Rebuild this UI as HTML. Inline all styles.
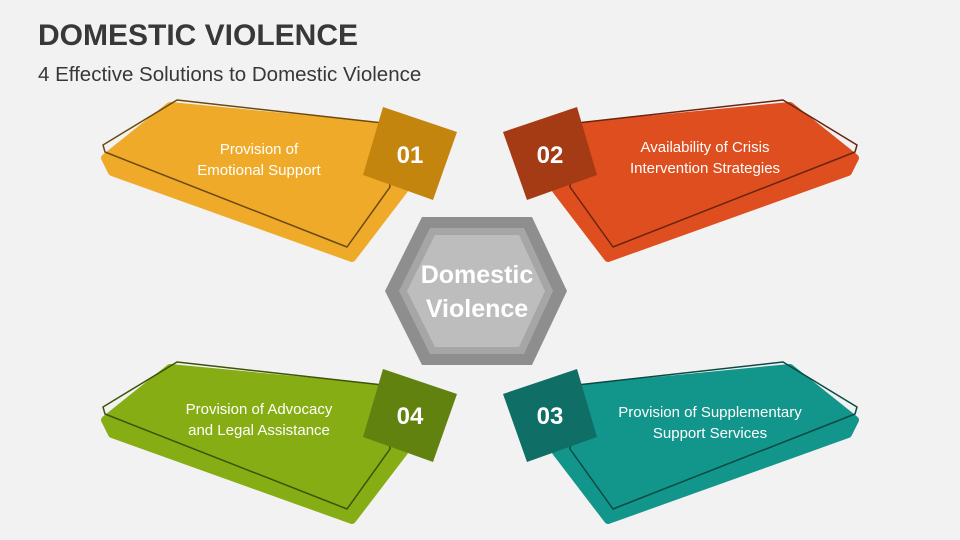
<!DOCTYPE html>
<html><head><meta charset="utf-8"><style>
body{margin:0;width:960px;height:540px;background:#f2f2f2;overflow:hidden;font-family:"Liberation Sans",sans-serif}
svg{position:absolute;left:0;top:0}
</style></head><body>
<svg width="960" height="540" viewBox="0 0 960 540" font-family="Liberation Sans, sans-serif">
<text x="38" y="45" font-size="30" font-weight="bold" fill="#383838">DOMESTIC VIOLENCE</text>
<text x="38" y="81" font-size="20.5" fill="#383838">4 Effective Solutions to Domestic Violence</text>

<!-- 01 yellow -->
<g>
<path d="M170,106 L398,128 L404,190 L352,258 L112,172 L105,158 Z" fill="#EFAA2A" stroke="#EFAA2A" stroke-width="8" stroke-linejoin="round"/>
<path d="M177,100 L383,123 L390,187 L347,247 L105,152 L103,145 Z" fill="none" stroke="#6b4a10" stroke-width="1.5" stroke-linejoin="round"/>
<path d="M383,107 L457,132 L433,200 L363,175 Z" fill="#C4850F"/>
<text x="259" y="154" font-size="15" fill="#fff" text-anchor="middle">Provision of</text>
<text x="259" y="175" font-size="15" fill="#fff" text-anchor="middle">Emotional Support</text>
<text x="410" y="163" font-size="24" font-weight="bold" fill="#fff" text-anchor="middle">01</text>
</g>
<!-- 04 green -->
<g transform="translate(0,262)">
<path d="M170,106 L398,128 L404,190 L352,258 L112,172 L105,158 Z" fill="#86AE14" stroke="#86AE14" stroke-width="8" stroke-linejoin="round"/>
<path d="M177,100 L383,123 L390,187 L347,247 L105,152 L103,145 Z" fill="none" stroke="#3d520a" stroke-width="1.5" stroke-linejoin="round"/>
<path d="M383,107 L457,132 L433,200 L363,175 Z" fill="#62820F"/>
</g>
<text x="259" y="414" font-size="15" fill="#fff" text-anchor="middle">Provision of Advocacy</text>
<text x="259" y="435" font-size="15" fill="#fff" text-anchor="middle">and Legal Assistance</text>
<text x="410" y="424" font-size="24" font-weight="bold" fill="#fff" text-anchor="middle">04</text>
<!-- 02 orange -->
<g transform="translate(960,0) scale(-1,1)">
<path d="M170,106 L398,128 L404,190 L352,258 L112,172 L105,158 Z" fill="#DE4E1E" stroke="#DE4E1E" stroke-width="8" stroke-linejoin="round"/>
<path d="M177,100 L383,123 L390,187 L347,247 L105,152 L103,145 Z" fill="none" stroke="#6a2410" stroke-width="1.5" stroke-linejoin="round"/>
<path d="M383,107 L457,132 L433,200 L363,175 Z" fill="#A53B14"/>
</g>
<text x="705" y="152" font-size="15" fill="#fff" text-anchor="middle">Availability of Crisis</text>
<text x="705" y="173" font-size="15" fill="#fff" text-anchor="middle">Intervention Strategies</text>
<text x="550" y="163" font-size="24" font-weight="bold" fill="#fff" text-anchor="middle">02</text>
<!-- 03 teal -->
<g transform="translate(960,262) scale(-1,1)">
<path d="M170,106 L398,128 L404,190 L352,258 L112,172 L105,158 Z" fill="#12958A" stroke="#12958A" stroke-width="8" stroke-linejoin="round"/>
<path d="M177,100 L383,123 L390,187 L347,247 L105,152 L103,145 Z" fill="none" stroke="#0b4a44" stroke-width="1.5" stroke-linejoin="round"/>
<path d="M383,107 L457,132 L433,200 L363,175 Z" fill="#0F6E66"/>
</g>
<text x="710" y="417" font-size="15" fill="#fff" text-anchor="middle">Provision of Supplementary</text>
<text x="710" y="438" font-size="15" fill="#fff" text-anchor="middle">Support Services</text>
<text x="550" y="424" font-size="24" font-weight="bold" fill="#fff" text-anchor="middle">03</text>

<!-- hexagon -->
<path d="M385,291 L422,217 L532,217 L567,291 L532,365 L422,365 Z" fill="#8e8e8e"/>
<path d="M399,291 L430,228 L524,228 L553,291 L524,354 L430,354 Z" fill="#a6a6a6"/>
<path d="M407,291 L435,235 L519,235 L545,291 L519,347 L435,347 Z" fill="#bdbdbd"/>
<text x="477" y="283" font-size="25" font-weight="bold" fill="#fff" text-anchor="middle">Domestic</text>
<text x="477" y="317" font-size="25" font-weight="bold" fill="#fff" text-anchor="middle">Violence</text>
</svg>
</body></html>
